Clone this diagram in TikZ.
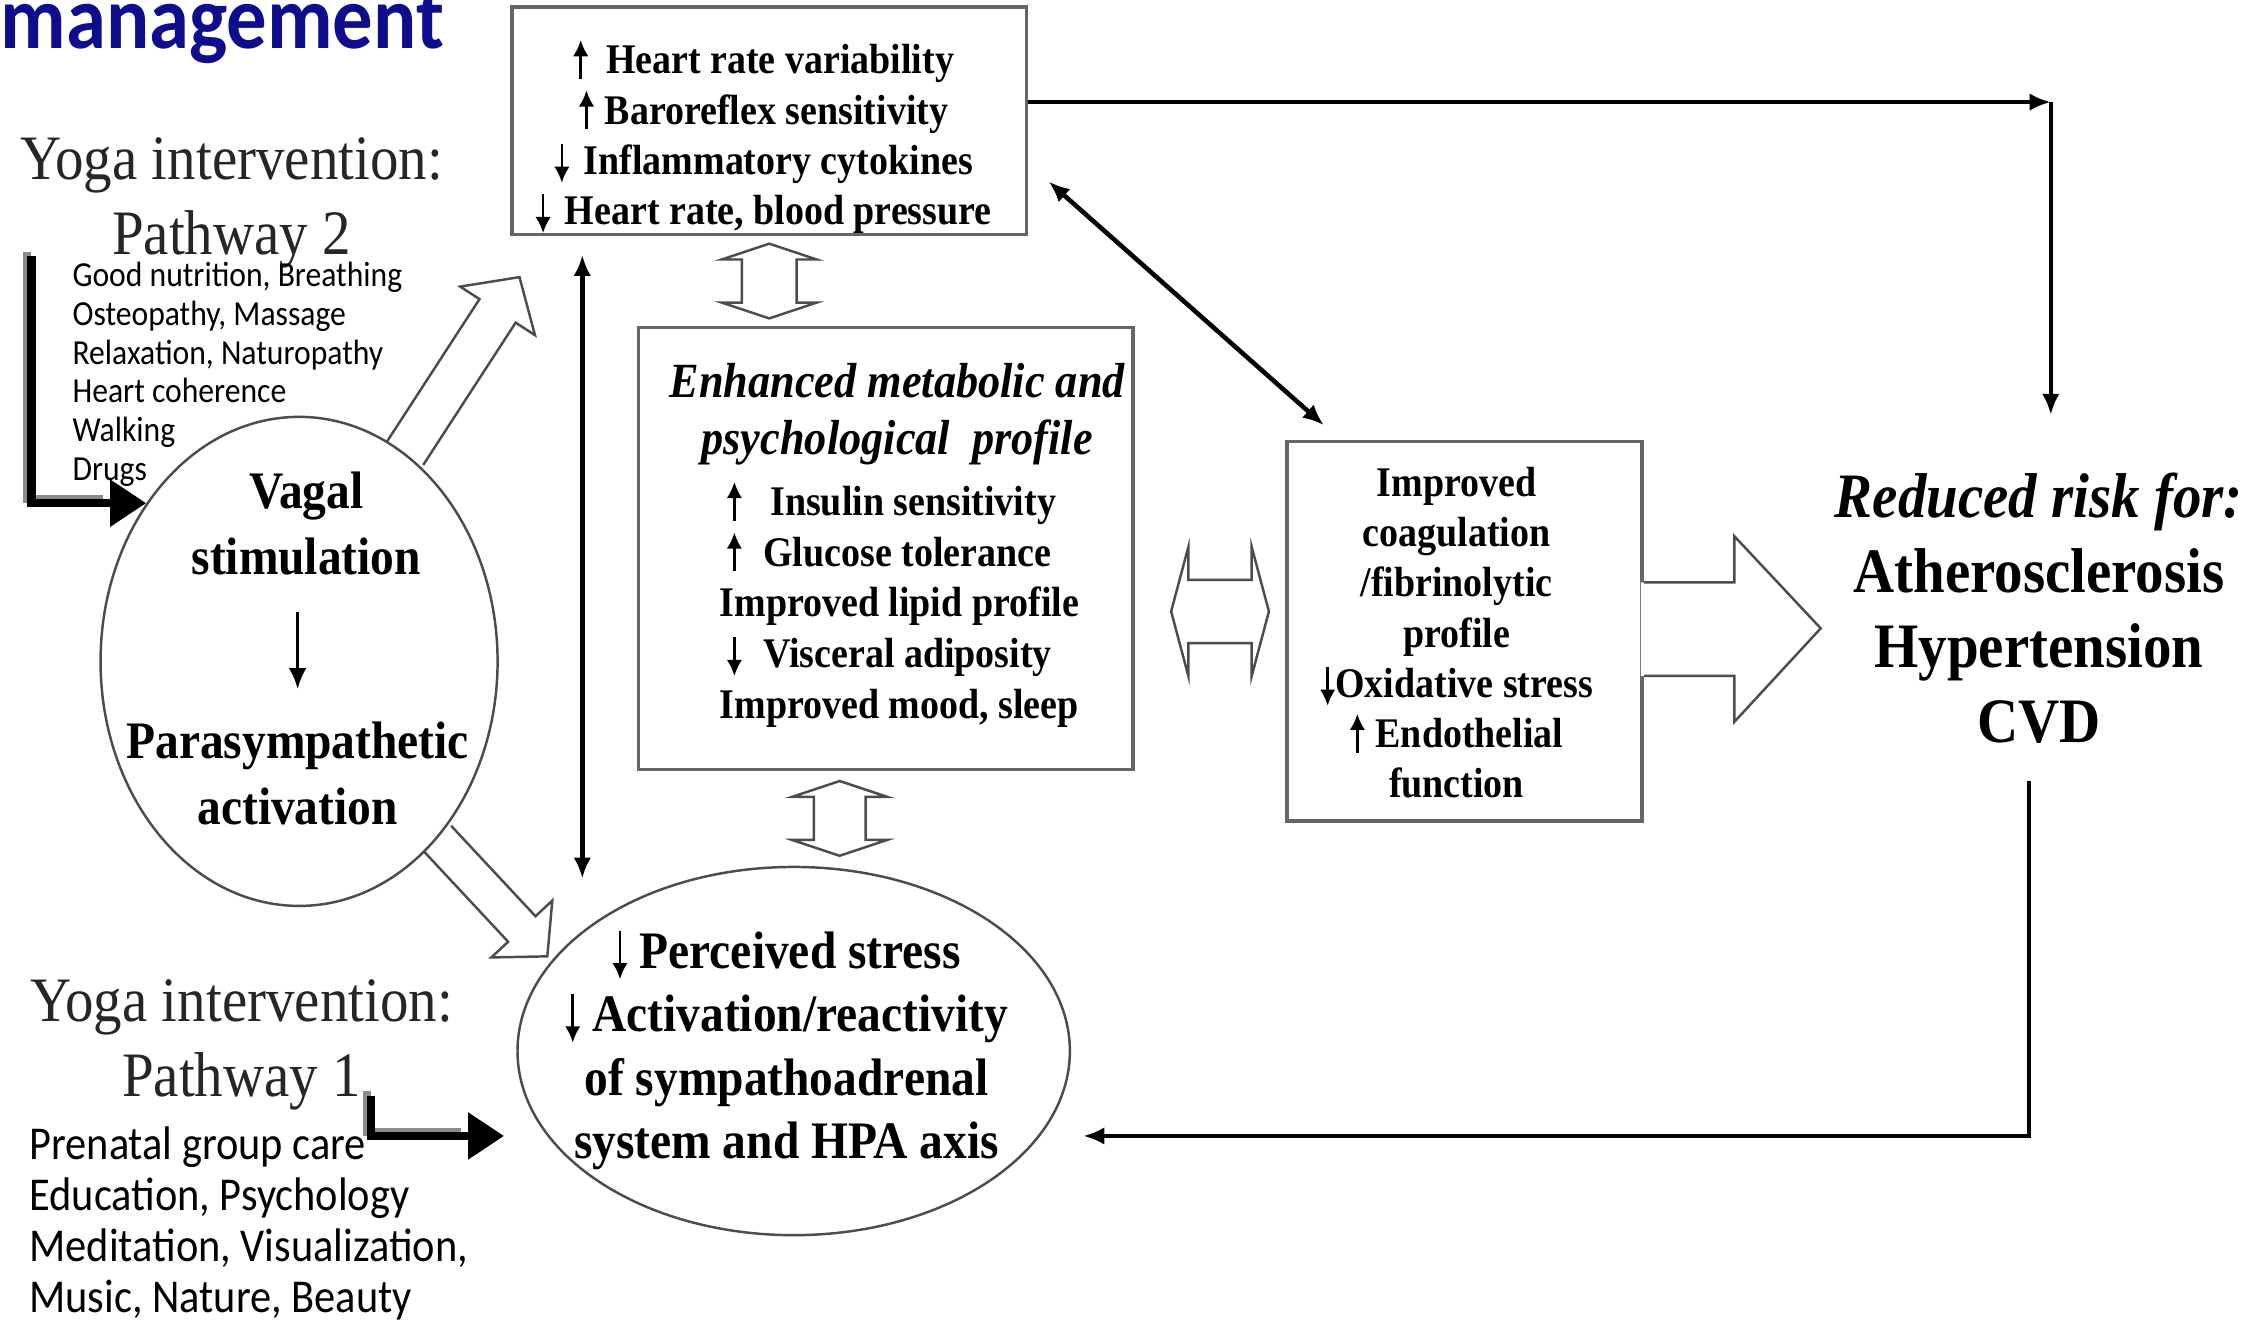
\documentclass[tikz,border=0pt]{standalone}
\usepackage{fontspec}
\setmainfont{Liberation Serif}
\newfontfamily\figfont[FakeStretch=0.9]{Liberation Serif}
\newfontfamily\slidefont[FakeStretch=0.9]{Carlito}
\usetikzlibrary{arrows.meta,calc,shapes.geometric,positioning}

\definecolor{titleblue}{RGB}{14,14,140}

% small up / down arrows used inside the texts
\newcommand{\upar}{\tikz[baseline=0pt]\draw[line width=0.75pt,-{Latex[length=4.6pt,width=4.4pt]}] (0pt,-0.12em) -- (0pt,0.8em);}
\newcommand{\dnar}{\tikz[baseline=0pt]\draw[line width=0.75pt,-{Latex[length=4.6pt,width=4.4pt]}] (0pt,0.72em) -- (0pt,-0.2em);}

\tikzset{
  panel/.style={draw=black!60, line width=1pt, inner sep=0pt},
  oval/.style={ellipse, draw=black!70, line width=0.7pt, inner sep=0pt},
  boxtext/.style={font={\figfont\bfseries\fontsize{12}{14.3}\selectfont}, align=center, inner sep=0pt},
  bigtext/.style={font={\figfont\bfseries\fontsize{15}{18.8}\selectfont}, align=center, inner sep=0pt},
  risktext/.style={font={\figfont\bfseries\fontsize{18}{21.3}\selectfont}, align=center, inner sep=0pt},
  yogatext/.style={font={\figfont\fontsize{18}{21.3}\selectfont}, align=center, inner sep=0pt, text=black!85},
  smalllist/.style={font={\slidefont\fontsize{10}{11}\selectfont}, align=left, inner sep=0pt},
  biglist/.style={font={\slidefont\fontsize{13.4}{14.5}\selectfont}, align=left, inner sep=0pt},
  titletext/.style={font={\slidefont\bfseries\fontsize{25.5}{30}\selectfont}, text=titleblue, inner sep=0pt},
  conn/.style={line width=1.3pt, -{Latex[length=6pt,width=5pt]}},
  twoway/.style={line width=1.3pt, {Latex[length=6pt,width=5pt]}-{Latex[length=6pt,width=5pt]}},
  hollow/.style={draw=black!70, line width=0.7pt, fill=white},
  heavy/.style={line width=2.4pt, -{Triangle[length=0.36cm,width=0.45cm]}},
  heavyshade/.style={line width=2.2pt, draw=black!45},
}

\begin{document}
\begin{tikzpicture}[x=0.01438cm, y=-0.01438cm]
\useasboundingbox (0,0) rectangle (1560,920);

% slide title, cut at the top
\node[titletext, anchor=base west] (title) at (0,34) {management};

% left column: the two yoga pathways
\node[yogatext] (path2) at (161,141) {Yoga intervention:\\Pathway 2};
\node[smalllist, anchor=north west] (list2) at (50,182) {Good nutrition, Breathing\\Osteopathy, Massage\\Relaxation, Naturopathy\\Heart coherence\\Walking\\Drugs};
\node[yogatext] (path1) at (168,727) {Yoga intervention:\\Pathway 1};
\node[biglist, anchor=north west] (list1) at (20,783) {Prenatal group care\\Education, Psychology\\Meditation, Visualization,\\Music, Nature, Beauty};

% the two ovals
\node[oval, minimum width=3.969cm, minimum height=4.889cm] (vagal) at (208,460) {};
\node[bigtext] (vagalA) at (213,364) {Vagal\\stimulation};
\node[bigtext] (vagalB) at (207,538) {Parasympathetic\\activation};
\draw[line width=0.9pt, -{Latex[length=6pt,width=5pt]}, shorten <=0.36cm, shorten >=0.32cm] (vagalB.north |- vagalA.south) -- (vagalB.north);

\node[oval, minimum width=5.522cm, minimum height=3.681cm] (stress) at (552,731) {};
\node[bigtext, font={\figfont\bfseries\fontsize{15}{18}\selectfont}] (stresstext) at (547,730) {\dnar\ Perceived stress\\\dnar\ Activation/reactivity\\of sympathoadrenal\\system and HPA axis};

% the three boxes
\node[panel, minimum width=5.148cm, minimum height=2.272cm] (vitals) at (535,84) {};
\node[boxtext] (vitalstext) at (531,95) {\upar\hspace{5pt}Heart rate variability\\\upar\hspace{3pt}Baroreflex sensitivity\\\dnar\hspace{4pt}Inflammatory cytokines\\\dnar\hspace{4pt}Heart rate, blood pressure};

\node[panel, minimum width=4.947cm, minimum height=4.415cm] (metab) at (616,381.5) {};
\node[boxtext, font={\figfont\bfseries\itshape\fontsize{14}{16.4}\selectfont}] (metabhead) at (624,288) {Enhanced metabolic and\\psychological\ \ profile};
\node[boxtext, align=left, anchor=west, font={\figfont\bfseries\fontsize{12}{14.4}\selectfont}] (metablist) at (500,420) {\hspace{2pt}\upar\hspace{8pt}Insulin sensitivity\\\hspace{2pt}\upar\hspace{6pt}Glucose tolerance\\Improved lipid profile\\\hspace{2pt}\dnar\hspace{6pt}Visceral adiposity\\Improved mood, sleep};

\node[panel, minimum width=3.552cm, minimum height=3.796cm] (coag) at (1018.5,439) {};
\node[boxtext] (coagtext) at (1013,440) {Improved\\coagulation\\/fibrinolytic\\profile\\\dnar Oxidative stress\\\upar\hspace{3pt}Endothelial\\function};

% outcome
\node[risktext] (risk) at (1418,423) {\textit{Reduced risk for:}\\Atherosclerosis\\Hypertension\\CVD};

% big open arrow out of the coagulation box
\begin{scope}[shift={(coag.east)}]
  \fill[white] (-2,-34) -- (63,-34) -- (63,-66) -- (123,-2) -- (63,63) -- (63,31) -- (-2,31) -- cycle;
  \draw[hollow, fill=none] (0,-34) -- (63,-34) -- (63,-66) -- (123,-2) -- (63,63) -- (63,31) -- (0,31);
\end{scope}

% open double arrows between the middle blocks
\begin{scope}[shift={($(vitals.south)!0.5!(vitals.south |- metab.north)$)}, rotate=90]
  \draw[hollow] (-26,0) -- (-15,-33) -- (-15,-19) -- (15,-19) -- (15,-33) -- (26,0) -- (15,33) -- (15,19) -- (-15,19) -- (-15,33) -- cycle;
\end{scope}
\begin{scope}[shift={($(metab.south)!0.5!(stress.north)$)}, rotate=90]
  \draw[hollow] (-26,0) -- (-15,-33) -- (-15,-18) -- (15,-18) -- (15,-33) -- (26,0) -- (15,33) -- (15,18) -- (-15,18) -- (-15,33) -- cycle;
\end{scope}
\begin{scope}[shift={($(metab.east)!0.5!(coag.west)+(7,15)$)}]
  \draw[hollow] (-34,0) -- (-22,-45) -- (-22,-22) -- (22,-22) -- (22,-45) -- (34,0) -- (22,45) -- (22,22) -- (-22,22) -- (-22,45) -- cycle;
\end{scope}

% open arrows leaving the vagal oval
\begin{scope}[shift={(vagal.63)}, rotate=57]
  \draw[hollow, fill=none] (0,-15) -- (118,-15) -- (118,-31) -- (146,0) -- (118,31) -- (118,15) -- (0,15);
\end{scope}
\begin{scope}[shift={(vagal.-52)}, rotate=-47]
  \draw[hollow, fill=none] (0,-13) -- (86,-13) -- (86,-29) -- (112,0) -- (86,29) -- (86,13) -- (0,13);
\end{scope}

% heavy arrows from the pathways
\coordinate (p2start) at (22,178);
\coordinate (p1start) at (258,762);
\draw[heavyshade] ($(p2start)+(-3,-3)$) |- ($(vagal.134)+(-30,-3)$);
\draw[heavy] (p2start) |- (vagal.134);
\draw[heavyshade] ($(p1start)+(-3,-3)$) |- ($(stress.199)+(-60,-3)$);
\draw[heavy, shorten >=0.43cm] (p1start) |- (stress.199);

% thin connectors
\coordinate (corner) at ($(vitals.east)+(711,-13)$);
\draw[conn] ($(vitals.east)+(0,-13)$) -- (corner);
\draw[conn, shorten >=0.575cm] (corner) -- (corner |- risk.north);
\draw[conn, shorten >=0.43cm] ($(risk.south)+(-7,26)$) |- (stress.-19);
\draw[twoway] ($(vitals.south east)+(14,-38)$) -- ($(coag.north west)+(27,-10)$);
\coordinate (vaxis) at ($(vitals.south)+(-130,13)$);
\draw[twoway] (vaxis) -- ($(vaxis |- stress.north)+(0,9)$);

\end{tikzpicture}
\end{document}
